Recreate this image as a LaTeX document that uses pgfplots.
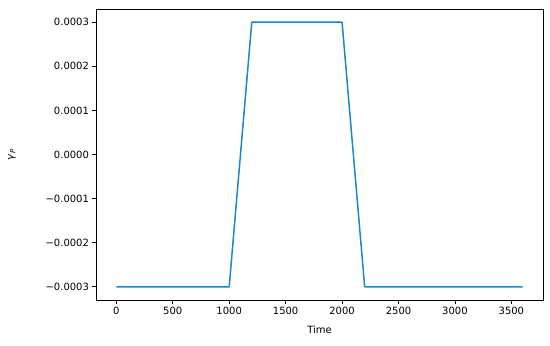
\documentclass[border=0pt]{standalone}
\usepackage{fontspec}
\setmainfont{DejaVu Sans}
\usepackage{pgfplots}
\pgfplotsset{compat=1.18}
\definecolor{mplblue}{RGB}{27,135,200}

\begin{document}
\fontsize{10}{12}\selectfont
\begin{tikzpicture}
\useasboundingbox (-96pt,-46pt) rectangle (454pt,300pt);
\begin{axis}[
  at={(0pt,0pt)}, anchor=south west,
  scale only axis,
  width=447pt, height=291pt,
  xmin=-180, xmax=3780,
  ymin=-0.00033, ymax=0.00033,
  xtick={0,500,1000,1500,2000,2500,3000,3500},
  ytick={-0.0003,-0.0002,-0.0001,0,0.0001,0.0002,0.0003},
  yticklabels={−0.0003,−0.0002,−0.0001,0.0000,0.0001,0.0002,0.0003},
  scaled x ticks=false, scaled y ticks=false,
  /pgf/number format/assume math mode=true,
  xticklabel style={/pgf/number format/1000 sep={}},
  tick align=outside, tick pos=left,
  major tick length=3.5pt,
  every tick/.style={black, line width=0.8pt},
  axis line style={line width=0.8pt},
  tick label style={font=\fontsize{10}{12}\selectfont},
  xlabel={Time},
  ylabel={\textit{γ}\textsubscript{\textit{P}}},
  xlabel style={at={(axis description cs:0.5,0)}, anchor=center, yshift=-30pt},
  ylabel style={at={(axis description cs:0,0.5)}, anchor=center, yshift=84pt},
]
\addplot[mplblue, line width=1.5pt, line join=round] coordinates {
  (0,-0.0003) (1000,-0.0003) (1200,0.0003) (2000,0.0003) (2200,-0.0003) (3600,-0.0003)
};
\end{axis}
\end{tikzpicture}
\end{document}
